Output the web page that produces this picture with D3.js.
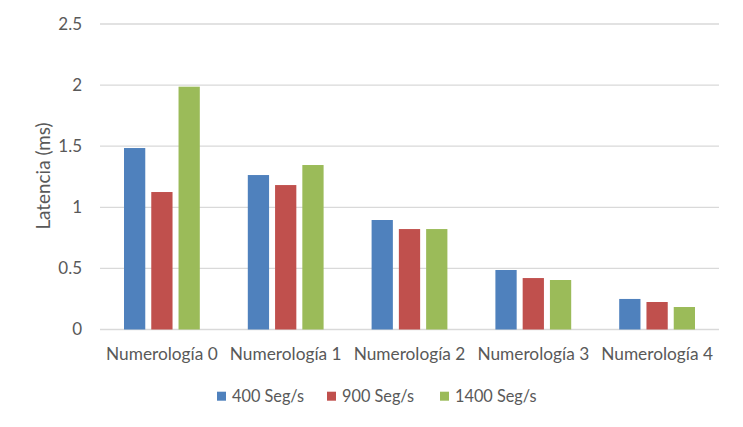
<!DOCTYPE html>
<html><head><meta charset="utf-8">
<script src="https://cdn.jsdelivr.net/npm/d3@7"></script>
<style>body{margin:0;background:#fff}text{font-family:Lato,sans-serif;fill:#595959}</style>
</head><body><svg id="c" width="743" height="427"></svg>
<script>
const categories = ["Numerología 0","Numerología 1","Numerología 2","Numerología 3","Numerología 4"];
const seriesNames = ["400 Seg/s","900 Seg/s","1400 Seg/s"];
const s400 = [1.485,1.264,0.896,0.487,0.25];
const s900 = [1.125,1.182,0.822,0.421,0.225];
const s1400 = [1.987,1.346,0.822,0.405,0.184];
const yTicks = [0,0.5,1,1.5,2,2.5];
const colors = ["#4F81BD","#C0504D","#9BBB59"];
const seriesVals = [s400,s900,s1400];

const svg = d3.select("#c");
const L=100,R=719,T=24,B=329.5;
const FONT = "Lato,sans-serif";
const x0 = d3.scaleBand().domain(categories).range([L,R]).paddingInner(0).paddingOuter(0);
const x1 = d3.scaleBand().domain(seriesNames).range([24,x0.bandwidth()-24]).paddingInner(0.22);
const y = d3.scaleLinear().domain([0,2.5]).range([B,T]);

// gridlines
svg.append("g").selectAll("line").data(yTicks).join("line")
  .attr("x1",L).attr("x2",R).attr("y1",d=>y(d)).attr("y2",d=>y(d))
  .attr("stroke","#d9d9d9").attr("stroke-width",1.3);

// y axis labels
const yAx = svg.append("g").attr("transform",`translate(${L},0)`)
  .call(d3.axisLeft(y).tickValues(yTicks).tickFormat(d=>String(d)).tickSize(0).tickPadding(18));
yAx.select(".domain").remove();
yAx.selectAll("text").style("font-size","17px").attr("fill","#595959").style("font-family",FONT);

// bars
categories.forEach((c,i)=>{
  svg.append("g").attr("transform",`translate(${x0(c)},0)`).selectAll("rect")
    .data(seriesNames.map((s,j)=>({s,v:seriesVals[j][i],j}))).join("rect")
    .attr("x",d=>x1(d.s)).attr("width",x1.bandwidth())
    .attr("y",d=>y(d.v)).attr("height",d=>B-y(d.v)).attr("fill",d=>colors[d.j]);
});

// x axis labels
const xAx = svg.append("g").attr("transform",`translate(0,${B})`)
  .call(d3.axisBottom(x0).tickSize(0).tickPadding(0));
xAx.select(".domain").remove();
xAx.selectAll("text").attr("dy",null).attr("y",30)
  .style("font-size","17.3px").attr("fill","#595959").style("font-family",FONT);

// y title
svg.append("text").attr("transform","translate(49.5,176) rotate(-90)")
  .attr("text-anchor","middle").style("font-size","18.9px").text("Latencia (ms)");

// legend
const legX = [217,327,440];
const lg = svg.append("g");
seriesNames.forEach((s,j)=>{
  lg.append("rect").attr("x",legX[j]).attr("y",391.7).attr("width",9).attr("height",9).attr("fill",colors[j]);
  lg.append("text").attr("x",legX[j]+15).attr("y",402.3).style("font-size","16.3px").text(s);
});
</script></body></html>
